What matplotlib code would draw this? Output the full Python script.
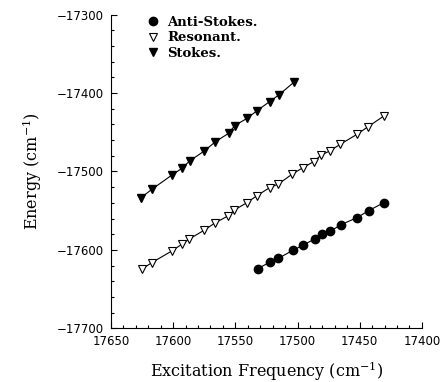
import matplotlib
matplotlib.use('Agg')
import matplotlib.pyplot as plt
from matplotlib.ticker import MultipleLocator

# Stokes (filled down triangles)
stokes_x = [17625.8, 17617.1, 17601.0, 17592.9, 17586.8, 17575.0, 17566.0,
            17555.4, 17550.6, 17540.6, 17532.5, 17522.4, 17515.1, 17503.0]
stokes_y = [-17533.4, -17522.7, -17504.5, -17495.9, -17486.6, -17473.9, -17462.0,
            -17451.3, -17441.6, -17432.2, -17422.4, -17410.8, -17402.4, -17386.3]

# Resonant (open down triangles)
res_x = [17625.3, 17617.2, 17601.1, 17593.1, 17587.0, 17575.2, 17566.0, 17555.6,
         17550.7, 17540.7, 17532.7, 17522.5, 17515.3, 17504.5, 17495.7, 17487.1,
         17480.9, 17474.2, 17465.6, 17452.2, 17443.3, 17430.2]
res_y = [-17624.7, -17616.3, -17601.4, -17592.9, -17586.1, -17575.0, -17565.3, -17556.4,
         -17549.1, -17539.8, -17530.9, -17520.7, -17515.9, -17503.6, -17495.2, -17487.5,
         -17479.0, -17473.9, -17465.3, -17452.6, -17442.9, -17428.8]

# Anti-Stokes (filled circles)
anti_x = [17531.9, 17522.5, 17515.3, 17503.7, 17495.2, 17486.3,
          17480.4, 17473.7, 17465.1, 17452.2, 17442.8, 17430.7]
anti_y = [-17624.0, -17615.8, -17610.7, -17600.5, -17593.8, -17586.1,
          -17580.1, -17576.3, -17567.9, -17558.9, -17550.0, -17539.8]

plt.rcParams['mathtext.fontset'] = 'dejavuserif'

fig = plt.figure(figsize=(4.45, 3.82), dpi=100)
ax = fig.add_axes([0.2494, 0.1406, 0.6986, 0.8209])

# connecting lines
ax.plot(stokes_x, stokes_y, color='black', lw=0.8, zorder=1)
ax.plot(res_x, res_y, color='black', lw=0.8, zorder=1)
ax.plot(anti_x, anti_y, color='black', lw=0.8, zorder=1)

# markers
h_anti, = ax.plot(anti_x, anti_y, 'o', color='black', ms=6, ls='none', label='Anti-Stokes.')
h_res, = ax.plot(res_x, res_y, 'v', mfc='white', mec='black', mew=0.8, ms=5.5, ls='none', label='Resonant.')
h_st, = ax.plot(stokes_x, stokes_y, 'v', color='black', ms=5.5, ls='none', label='Stokes.')

ax.set_xlim(17650, 17400)
ax.set_ylim(-17700, -17300)
ax.xaxis.set_major_locator(MultipleLocator(50))
ax.xaxis.set_minor_locator(MultipleLocator(10))
ax.yaxis.set_major_locator(MultipleLocator(100))
ax.yaxis.set_minor_locator(MultipleLocator(20))

ax.spines['top'].set_visible(False)
ax.spines['right'].set_visible(False)
ax.tick_params(which='both', direction='in', top=False, right=False)
ax.tick_params(which='major', length=4, width=0.8, labelsize=8.5, pad=5)
ax.tick_params(which='minor', length=2, width=0.8)

ax.set_xlabel('Excitation Frequency (cm$^{-1}$)', family='DejaVu Serif', fontsize=11.5, labelpad=8)
ax.set_ylabel('Energy (cm$^{-1}$)', family='DejaVu Serif', fontsize=11.5, labelpad=9)

leg = ax.legend(handles=[h_anti, h_res, h_st], loc='upper left', bbox_to_anchor=(0.075, 1.035),
                frameon=False, handlelength=1.0, handletextpad=0.6, labelspacing=0.2,
                prop={'family': 'DejaVu Serif', 'weight': 'bold', 'size': 9.5})

fig.savefig('out.png', dpi=100)
